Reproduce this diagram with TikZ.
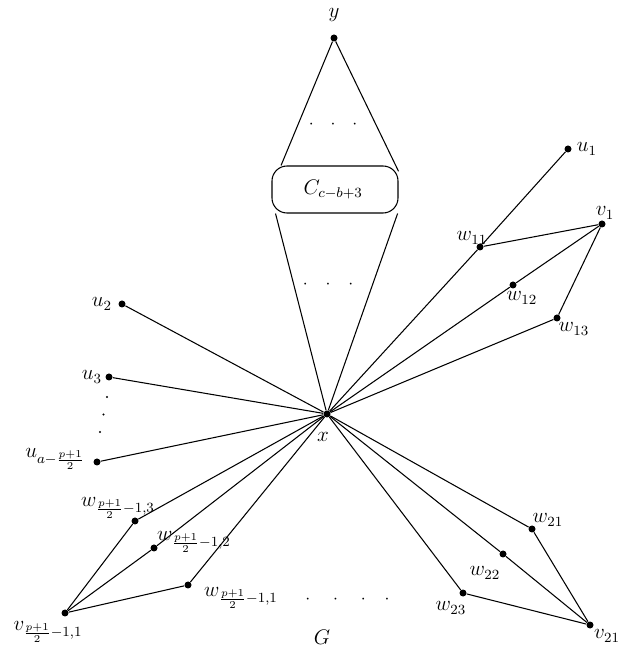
\documentclass[tikz,border=0pt]{standalone}
\usepackage{amsmath}
\usepackage{tikz}
\usetikzlibrary{calc}

\begin{document}
\begin{tikzpicture}[
    vertex/.style={circle, fill=black, inner sep=0pt, minimum size=1.4mm},
    edge/.style={line width=0.6pt},
    every label/.style={font=\large, inner sep=0pt},
]
\useasboundingbox (0,0) rectangle (12.42,13.04);
% x e y
\node[vertex, label={[shift={(-0.08,-0.46)}]center:$x$}] (x) at (6.54,4.76) {};
\node[vertex, label={[shift={(0,0.46)}]center:$y$}] (y) at (6.68,12.28) {};
\node[draw, edge, fill=white, rounded corners=0.3cm, minimum width=2.52cm, minimum height=0.94cm, font=\large] (C) at (6.70,9.25) {$C_{c-b+3}\,$};
% lado direito, primeiro bloco
\node[vertex, label={[shift={(0.38,0)}]center:$u_1$}] (u1) at (11.36,10.06) {};
\node[vertex, label={[shift={(0.06,0.22)}]center:$v_1$}] (v1) at (12.04,8.56) {};
\node[vertex, label={[shift={(-0.16,0.18)}]center:$w_{11}$}] (w11) at (9.60,8.10) {};
\node[vertex, label={[shift={(0.18,-0.26)}]center:$w_{12}$}] (w12) at (10.26,7.34) {};
\node[vertex, label={[shift={(0.34,-0.22)}]center:$w_{13}$}] (w13) at (11.14,6.68) {};
% lado esquerdo
\node[vertex, label={[shift={(-0.40,0)}]center:$u_2$}] (u2) at (2.44,6.96) {};
\node[vertex, label={[shift={(-0.34,0)}]center:$u_3$}] (u3) at (2.18,5.50) {};
\node[vertex, label={[shift={(-0.84,0.06)}]center:$u_{a-\frac{p+1}{2}}$}] (ua) at (1.94,3.80) {};
\node[vertex, label={[shift={(-0.34,0.26)}]center:$w_{\frac{p+1}{2}-1,3}$}] (wp3) at (2.70,2.62) {};
\node[vertex, label={[shift={(0.80,0.12)}]center:$w_{\frac{p+1}{2}-1,2}$}] (wp2) at (3.08,2.08) {};
\node[vertex, label={[shift={(1.06,-0.26)}]center:$w_{\frac{p+1}{2}-1,1}$}] (wp1) at (3.76,1.34) {};
\node[vertex, label={[shift={(-0.34,-0.38)}]center:$v_{\frac{p+1}{2}-1,1}$}] (vp) at (1.30,0.78) {};
% lado direito, embaixo
\node[vertex, label={[shift={(0.32,0.18)}]center:$w_{21}$}] (w21) at (10.64,2.46) {};
\node[vertex, label={[shift={(-0.36,-0.38)}]center:$w_{22}$}] (w22) at (10.06,1.96) {};
\node[vertex, label={[shift={(-0.24,-0.30)}]center:$w_{23}$}] (w23) at (9.26,1.18) {};
\node[vertex, label={[shift={(0.34,-0.22)}]center:$v_{21}$}] (v21) at (11.80,0.54) {};
% pontos
\node (dots1) at (6.66,10.54) {$\cdot\hspace{2.6mm}\cdot\hspace{2.6mm}\cdot$};
\node (dots2) at (6.56,7.34) {$\cdot\hspace{2.8mm}\cdot\hspace{2.8mm}\cdot$};
\node (dots3) at (6.95,1.04) {$\cdot\hspace{3.8mm}\cdot\hspace{3.8mm}\cdot\hspace{3.8mm}\cdot$};
\foreach \i in {0,1,2}
    \fill (2.14-0.07*\i,5.10-0.35*\i) circle (0.7pt);
\node[font=\large] (G) at (6.44,0.30) {$G$};
% arestas
\draw[edge] (y) -- (C.156);
\draw[edge] (y) -- (C.16);
\draw[edge] (C.202) -- (x);
\draw[edge] (C.339) -- (x);
\foreach \n in {u2,u3,ua,w11,w12,w13,wp1,wp2,wp3,w21,w22,w23}
    \draw[edge] (x) -- (\n);
\draw[edge] (w11) -- (u1);
\foreach \n in {w11,w12,w13}
    \draw[edge] (\n) -- (v1);
\foreach \n in {wp1,wp2,wp3}
    \draw[edge] (\n) -- (vp);
\foreach \n in {w21,w22,w23}
    \draw[edge] (\n) -- (v21);
\end{tikzpicture}
\end{document}
